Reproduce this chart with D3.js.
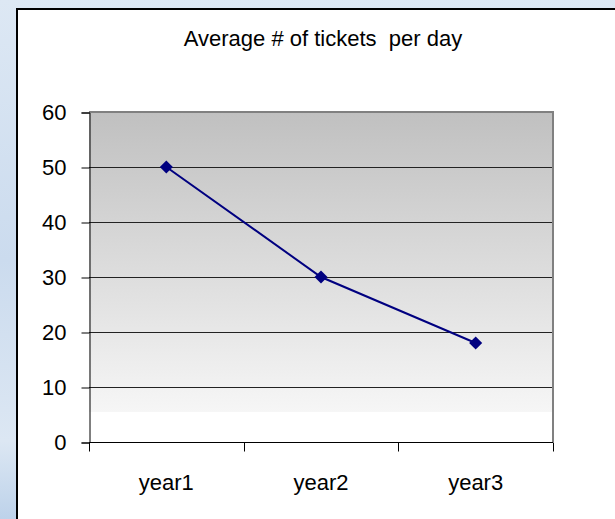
<!DOCTYPE html>
<html>
<head>
<meta charset="utf-8">
<script src="https://cdn.jsdelivr.net/npm/d3@7"></script>
<style>
    body { margin: 0; background: #cddcee; }
    svg { display: block; }
    text { font-family: "Liberation Sans", Arial, sans-serif; fill: #000; }
</style>
</head>
<body>
<svg id="canvas"></svg>
<script>
let categories = ["year1", "year2", "year3"]
let ticketValues = [50, 30, 18]
let yTickValues = [0, 10, 20, 30, 40, 50, 60]
let chartTitle = "Average # of tickets\u00a0 per day"

let width = 615
let height = 519

let canvas = d3.select("#canvas")
    .attr("width", width)
    .attr("height", height)

let defs = canvas.append("defs")

// slide background behind the chart
let bg = defs.append("linearGradient")
    .attr("id", "slideBg")
    .attr("x1", 0).attr("y1", 0).attr("x2", 0).attr("y2", 1)
bg.append("stop").attr("offset", 0).attr("stop-color", "#dde8f4")
bg.append("stop").attr("offset", 0.5).attr("stop-color", "#cbdbee")
bg.append("stop").attr("offset", 0.85).attr("stop-color", "#dce7f3")
bg.append("stop").attr("offset", 1).attr("stop-color", "#bdd2ea")

let plotFill = defs.append("linearGradient")
    .attr("id", "plotFill")
    .attr("x1", 0).attr("y1", 0).attr("x2", 0).attr("y2", 1)
plotFill.append("stop").attr("offset", 0).attr("stop-color", "#c0c0c0")
plotFill.append("stop").attr("offset", 0.91).attr("stop-color", "#f6f6f6")
plotFill.append("stop").attr("offset", 0.91).attr("stop-color", "#ffffff")
plotFill.append("stop").attr("offset", 1).attr("stop-color", "#ffffff")

canvas.append("rect")
    .attr("width", width)
    .attr("height", height)
    .attr("fill", "url(#slideBg)")

// chart area (runs off the right and bottom edge)
canvas.append("rect")
    .attr("x", 17)
    .attr("y", 9)
    .attr("width", 640)
    .attr("height", 560)
    .attr("fill", "#fff")
    .attr("stroke", "#000")
    .attr("stroke-width", 2)

let plot = { left: 89, right: 553, top: 112, bottom: 442 }

let xScale = d3.scaleBand()
    .domain(categories)
    .range([plot.left, plot.right])

let yScale = d3.scaleLinear()
    .domain([0, 60])
    .range([plot.bottom, plot.top])

canvas.append("rect")
    .attr("x", plot.left)
    .attr("y", plot.top)
    .attr("width", plot.right - plot.left)
    .attr("height", plot.bottom - plot.top)
    .attr("fill", "url(#plotFill)")

// gridlines
canvas.append("g")
    .selectAll("line")
    .data(yTickValues.filter((v) => v > 0 && v < 60))
    .enter()
    .append("line")
    .attr("x1", plot.left)
    .attr("x2", plot.right)
    .attr("y1", (v) => yScale(v) + 0.5)
    .attr("y2", (v) => yScale(v) + 0.5)
    .attr("stroke", "#222")
    .attr("stroke-width", 1)

// gray border on top and right
canvas.append("path")
    .attr("d", `M${plot.left},${plot.top} H${plot.right} V${plot.bottom}`)
    .attr("fill", "none")
    .attr("stroke", "#808080")
    .attr("stroke-width", 2)

// y axis
let yAxis = d3.axisLeft(yScale)
    .tickValues(yTickValues)
    .tickSize(8)
    .tickPadding(15)

let yAxisGroup = canvas.append("g")
    .attr("transform", `translate(${plot.left + 0.5},0.5)`)
    .call(yAxis)
yAxisGroup.select(".domain").attr("stroke", "#000")
yAxisGroup.selectAll(".tick line").attr("stroke", "#000")
yAxisGroup.selectAll("text")
    .style("font-size", "22px")
    .style("font-family", "'Liberation Sans', Arial, sans-serif")
    .attr("fill", "#000")

// x axis: labels centred in each band, ticks at band boundaries
let xAxisGroup = canvas.append("g")
    .attr("transform", `translate(0,${plot.bottom + 0.5})`)

xAxisGroup.append("line")
    .attr("x1", plot.left)
    .attr("x2", plot.right)
    .attr("stroke", "#000")

let boundaries = categories.map((c) => xScale(c)).concat([plot.right])
xAxisGroup.selectAll(".boundary")
    .data(boundaries)
    .enter()
    .append("line")
    .attr("class", "boundary")
    .attr("x1", (x) => Math.round(x) + 0.5)
    .attr("x2", (x) => Math.round(x) + 0.5)
    .attr("y1", 0)
    .attr("y2", 9)
    .attr("stroke", "#000")

xAxisGroup.selectAll(".label")
    .data(categories)
    .enter()
    .append("text")
    .attr("class", "label")
    .attr("x", (c) => xScale(c) + xScale.bandwidth() / 2)
    .attr("y", 47)
    .attr("text-anchor", "middle")
    .style("font-size", "22px")
    .text((c) => c)

// series line
let points = categories.map((c, i) => [xScale(c) + xScale.bandwidth() / 2, yScale(ticketValues[i])])

canvas.append("path")
    .attr("d", d3.line()(points))
    .attr("fill", "none")
    .attr("stroke", "#000080")
    .attr("stroke-width", 2)

canvas.selectAll(".marker")
    .data(points)
    .enter()
    .append("path")
    .attr("class", "marker")
    .attr("transform", (p) => `translate(${p[0]},${p[1]}) rotate(45)`)
    .attr("d", d3.symbol().type(d3.symbolSquare).size(85))
    .attr("fill", "#000080")

// title
canvas.append("text")
    .attr("x", 323)
    .attr("y", 46)
    .attr("text-anchor", "middle")
    .style("font-size", "22px")
    .text(chartTitle)
</script>
</body>
</html>
